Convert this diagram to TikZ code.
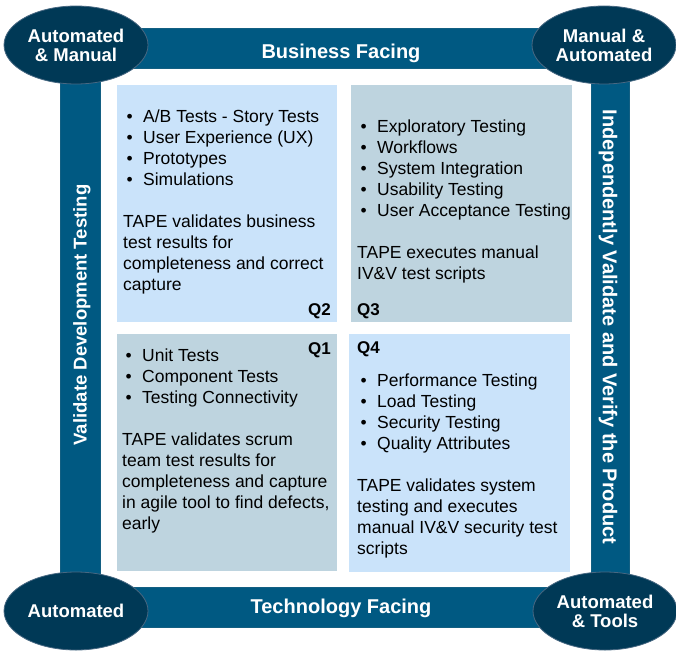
\documentclass[tikz,border=0pt]{standalone}
\usepackage{fontspec}
\setmainfont{Liberation Sans}
\usetikzlibrary{shapes.geometric,positioning}

\definecolor{barblue}{RGB}{0,89,130}
\definecolor{ovalblue}{RGB}{0,57,86}
\definecolor{ovalline}{RGB}{72,104,130}
\definecolor{lightq}{RGB}{202,227,250}
\definecolor{grayq}{RGB}{190,212,223}

\newcommand{\itm}[1]{\hspace*{3.5pt}\makebox[16.5pt][l]{\textbullet}#1}

\begin{document}
\begin{tikzpicture}[x=1pt,y=-1pt]
        \tikzstyle{bar} = [fill=barblue, draw=barblue!85!gray, line width=0.5pt, inner sep=0pt]
        \tikzstyle{corner} = [ellipse, fill=ovalblue, draw=ovalline, line width=0.8pt, inner sep=0pt,
                minimum width=144pt, minimum height=78pt, text=white, align=center,
                font=\bfseries\fontsize{18.5}{19}\selectfont]
        \tikzstyle{quad} = [anchor=north west, inner sep=0pt, draw=none]
        \tikzstyle{body} = [anchor=north west, inner sep=0pt, align=left, font=\fontsize{17.5}{21}\selectfont]
        \tikzstyle{qlabel} = [inner sep=0pt, font=\bfseries\fontsize{17}{20}\selectfont]
        \tikzstyle{title} = [inner sep=0pt, text=white, font=\bfseries\fontsize{20}{24}\selectfont]

        \useasboundingbox (0,0) rectangle (676,650);

        % frame
        \node[bar, minimum width=528pt, minimum height=40pt](top) at (340,48){};
        \node[bar, minimum width=529pt, minimum height=40pt](bottom) at (340.5,607){};
        \node[bar, minimum width=40pt, minimum height=566pt](left) at (80,328){};
        \node[bar, minimum width=38pt, minimum height=566pt](right) at (610,328){};

        \node[title, anchor=base](business) at (341,59){Business Facing};
        \node[title, anchor=base](technology) at (341,613){Technology Facing};
        \node[title, rotate=90, font=\bfseries\fontsize{18.5}{22}\selectfont](validate) at (82,315){Validate Development Testing};
        \node[title, rotate=-90](verify) at (608,327){Independently Validate and Verify the Product};

        \node[corner](tl) at (76,45){Automated\\\& Manual};
        \node[corner](tr) at (604,45){Manual \&\\Automated};
        \node[corner](bl) at (76,611){Automated};
        \node[corner](br) at (605,611){Automated\\\& Tools};

        % quadrants
        \node[quad, fill=lightq, minimum width=220pt, minimum height=237pt](q2box) at (117,85){};
        \node[quad, fill=grayq, minimum width=221pt, minimum height=237pt](q3box) at (351,85){};
        \node[quad, fill=grayq, minimum width=220pt, minimum height=237pt](q1box) at (117,334){};
        \node[quad, fill=lightq, minimum width=221pt, minimum height=238pt](q4box) at (349,334){};

        \node[qlabel, anchor=base east](q2) at (331,315){Q2};
        \node[qlabel, anchor=base west](q3) at (357,315){Q3};
        \node[qlabel, anchor=base east](q1) at (331,354){Q1};
        \node[qlabel, anchor=base west](q4) at (357,353){Q4};

        \node[body](q2text) at (123,108){\strut\itm{A/B Tests - Story Tests}\\
                \itm{User Experience (UX)}\\ \itm{Prototypes}\\ \itm{Simulations}\\[21pt]
                TAPE validates business\\ test results for\\ completeness and correct\\ capture};
        \node[body](q3text) at (357,118){\strut\itm{Exploratory Testing}\\ \itm{Workflows}\\
                \itm{System Integration}\\ \itm{Usability Testing}\\ \itm{User Acceptance Testing}\\[21pt]
                TAPE executes manual\\ IV\&V test scripts};
        \node[body](q1text) at (122,347){\strut\itm{Unit Tests}\\ \itm{Component Tests}\\
                \itm{Testing Connectivity}\\[21pt]
                TAPE validates scrum\\ team test results for\\ completeness and capture\\
                in agile tool to find defects,\\ early};
        \node[body](q4text) at (357,372){\strut\itm{Performance Testing}\\ \itm{Load Testing}\\
                \itm{Security Testing}\\ \itm{Quality Attributes}\\[21pt]
                TAPE validates system\\ testing and executes\\ manual IV\&V security test\\ scripts};
\end{tikzpicture}
\end{document}
